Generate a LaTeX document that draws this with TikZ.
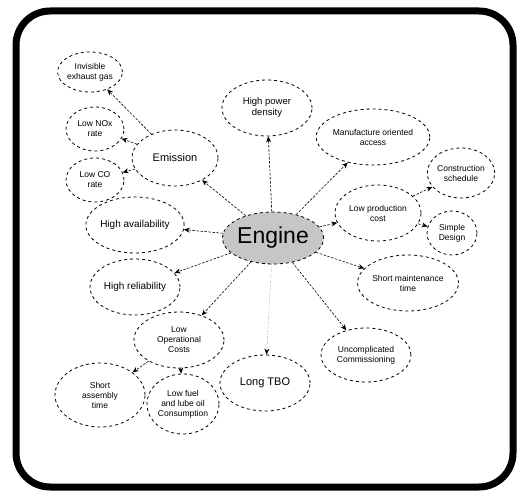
\documentclass[tikz,border=0pt]{standalone}
\usepackage{fontspec}
\setmainfont{Liberation Sans}
\usetikzlibrary{shapes.geometric,arrows.meta}
\begin{document}
\begin{tikzpicture}[x=1pt,y=-1pt]
	\tikzstyle{goal}=[ellipse, draw=black, dashed, thick, align=center, inner sep=0pt, font=\fontsize{8.5}{10}\selectfont]
	\useasboundingbox (0,0) rectangle (525,494);
	\draw[line width=7pt, rounded corners=34pt] (16,11) rectangle (513,487);

	\node[ellipse, draw=black, dashed, thick, fill=gray!45, minimum width=98pt, minimum height=52pt, inner sep=0pt, font=\fontsize{23}{24}\selectfont] (engine) at (273,238) {Engine};

	\node[goal, minimum width=86pt, minimum height=56pt, font=\fontsize{11}{12}\selectfont] (emission) at (175,158) {Emission};
	\node[goal, minimum width=64pt, minimum height=40pt] (exhaust) at (90,72) {Invisible\\exhaust gas};
	\node[goal, minimum width=58pt, minimum height=44pt] (nox) at (95,129) {Low NOx\\rate};
	\node[goal, minimum width=58pt, minimum height=44pt] (co) at (95,180) {Low CO\\rate};

	\node[goal, minimum width=90pt, minimum height=56pt, font=\fontsize{9.5}{11}\selectfont] (power) at (267,108) {High power\\density};
	\node[goal, minimum width=100pt, minimum height=56pt] (access) at (373,137) {Manufacture oriented\\access};
	\node[goal, minimum width=60pt, minimum height=50pt] (schedule) at (461,173) {Construction\\schedule};
	\node[goal, minimum width=86pt, minimum height=56pt] (prodcost) at (378,213) {Low production\\cost};
	\node[goal, minimum width=50pt, minimum height=44pt] (simple) at (452,233) {Simple\\Design};
	\node[goal, minimum width=90pt, minimum height=56pt] (maint) at (408,283) {Short maintenance\\time};
	\node[goal, minimum width=90pt, minimum height=54pt] (commission) at (366,355) {Uncomplicated\\Commissioning};
	\node[goal, minimum width=90pt, minimum height=56pt, font=\fontsize{11}{12}\selectfont] (tbo) at (265,383) {Long TBO};
	\node[goal, minimum width=90pt, minimum height=56pt] (opcost) at (179,340) {Low\\Operational\\Costs};
	\node[goal, minimum width=72pt, minimum height=60pt] (fuel) at (183,404) {Low fuel\\and lube oil\\Consumption};
	\node[goal, minimum width=90pt, minimum height=64pt] (assembly) at (100,395) {Short\\assembly\\time};
	\node[goal, minimum width=90pt, minimum height=56pt, font=\fontsize{10}{12}\selectfont] (reliab) at (135,287) {High reliability};
	\node[goal, minimum width=90pt, minimum height=56pt, font=\fontsize{10}{12}\selectfont] (avail) at (135,225) {High availability};

	\path[-{Stealth[length=6pt,width=5pt]}, semithick, dash pattern=on 2.5pt off 1.5pt]
		(engine) edge (avail)
		(engine) edge (reliab)
		(engine) edge (opcost)
		(engine) edge (commission)
		(engine) edge (maint)
		(engine) edge (prodcost)
		(engine) edge (access)
		(engine) edge (emission)
		(engine) edge (power)
		(emission) edge (exhaust)
		(emission) edge (nox)
		(emission) edge (co)
		(prodcost) edge (schedule)
		(prodcost) edge (simple)
		(opcost) edge (assembly)
		(opcost) edge (fuel);
	\path[-{Stealth[length=6pt,width=5pt]}, dotted]
		(engine) edge (tbo);
\end{tikzpicture}
\end{document}
